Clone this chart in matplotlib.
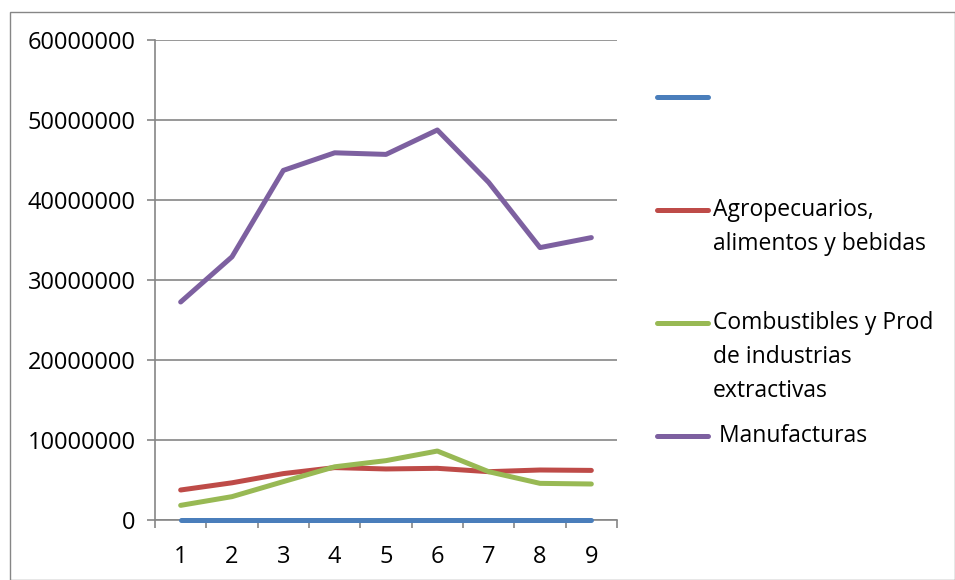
import matplotlib
matplotlib.use("Agg")
import matplotlib.pyplot as plt
from matplotlib.lines import Line2D
from matplotlib.patches import Rectangle

categories = [1, 2, 3, 4, 5, 6, 7, 8, 9]
series_names = ["", "Agropecuarios,\nalimentos y bebidas",
                "Combustibles y Prod\nde industrias\nextractivas", " Manufacturas"]
blank = [0, 0, 0, 0, 0, 0, 0, 0, 0]
agro = [3750000, 4650000, 5800000, 6550000, 6380000, 6460000, 6040000, 6250000, 6200000]
comb = [1830000, 2920000, 4800000, 6650000, 7420000, 8620000, 6040000, 4580000, 4500000]
manuf = [27250000, 32900000, 43700000, 45900000, 45700000, 48750000, 42200000, 34050000, 35300000]
colors = ["#4a7ebb", "#be4b48", "#98b954", "#7d60a0"]
yticks = [0, 10000000, 20000000, 30000000, 40000000, 50000000, 60000000]

FONT = "Open Sans"
FS_TICK = 17
FS_LEG = 16.5
LW = 3.6

fig = plt.figure(figsize=(9.55, 5.8), dpi=100)
fig.patch.set_facecolor("white")
fig.add_artist(Rectangle((10/955, 0), 1 - 10/955 - 0.5/955, 1 - 12/580,
                         transform=fig.transFigure, fill=False,
                         edgecolor="#868686", linewidth=1.0))

ax = fig.add_axes([155/955, 1 - 520/580, (617-155)/955, (520-40)/580])
data = [blank, agro, comb, manuf]
for vals, c in zip(data, colors):
    ax.plot(categories, vals, color=c, linewidth=LW, solid_capstyle="round",
            solid_joinstyle="round", zorder=5, clip_on=False)

ax.set_xlim(0.5, 9.5)
ax.set_ylim(0, 60000000)
ax.set_yticks(yticks)
ax.set_yticklabels([str(v) for v in yticks], fontfamily=FONT, fontsize=FS_TICK)
ax.set_xticks(categories)
ax.set_xticklabels([str(c) for c in categories], fontfamily=FONT, fontsize=FS_TICK)
ax.set_xticks([c + 0.5 for c in [0] + categories], minor=True)
ax.tick_params(axis="x", which="major", length=0, pad=18)
ax.tick_params(axis="x", which="minor", length=6, color="#868686", width=1.2, direction="out")
ax.tick_params(axis="y", length=6, color="#868686", width=1.2, direction="out", pad=8)
ax.grid(axis="y", color="#868686", linewidth=1.2)
ax.set_axisbelow(True)
for s in ["top", "right"]:
    ax.spines[s].set_visible(False)
for s in ["left", "bottom"]:
    ax.spines[s].set_color("#868686")
    ax.spines[s].set_linewidth(1.2)
    ax.spines[s].set_zorder(1)

# legend
leg_y = [97, 210, 323, 436]
for name, c, yy in zip(series_names, colors, leg_y):
    yf = 1 - yy/580
    fig.add_artist(Line2D([657/955, 708/955], [yf, yf], transform=fig.transFigure,
                          color=c, linewidth=LW, solid_capstyle="round"))
    if name:
        fig.text(713/955, yf + 12/580, name, fontfamily=FONT, fontsize=FS_LEG,
                 va="top", ha="left", linespacing=1.55)

fig.savefig("out.png", dpi=100)
